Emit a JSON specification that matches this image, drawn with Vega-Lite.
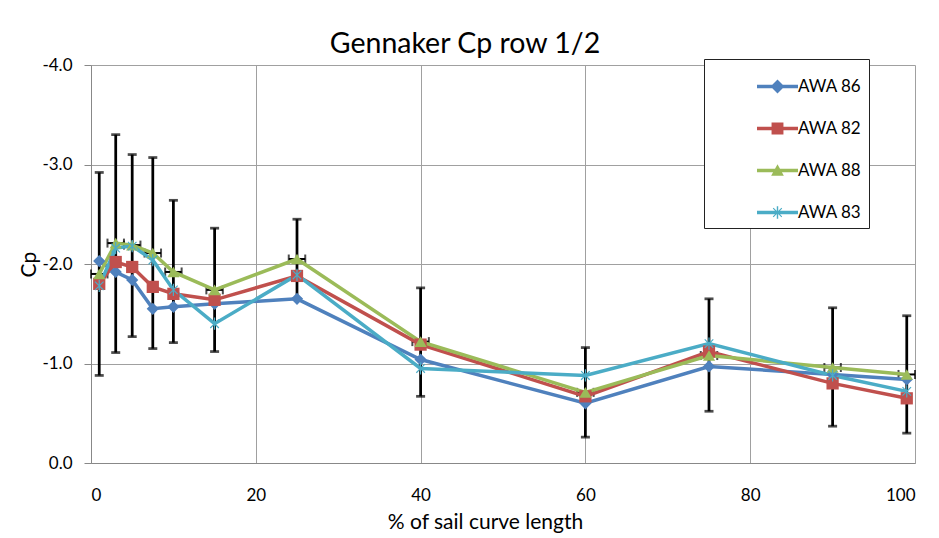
{
  "$schema": "https://vega.github.io/schema/vega-lite/v6.json",
  "description": "Gennaker Cp along the sail curve, four apparent wind angles",
  "autosize": "none",
  "padding": {"left": 91, "top": 65, "right": 24, "bottom": 75},
  "width": 824,
  "height": 398,
  "background": "white",
  "title": {
    "text": "Gennaker Cp row 1/2",
    "font": "Lato",
    "fontSize": 28.5,
    "fontWeight": "normal",
    "color": "#000",
    "anchor": "middle",
    "dx": -38,
    "offset": -2
  },
  "datasets": {
    "curves": [
      {"series": "AWA 86", "pct": 1, "cp": -2.03},
      {"series": "AWA 86", "pct": 3, "cp": -1.92},
      {"series": "AWA 86", "pct": 5, "cp": -1.84},
      {"series": "AWA 86", "pct": 7.5, "cp": -1.55},
      {"series": "AWA 86", "pct": 10, "cp": -1.57},
      {"series": "AWA 86", "pct": 15, "cp": -1.6},
      {"series": "AWA 86", "pct": 25, "cp": -1.65},
      {"series": "AWA 86", "pct": 40, "cp": -1.04},
      {"series": "AWA 86", "pct": 60, "cp": -0.6},
      {"series": "AWA 86", "pct": 75, "cp": -0.97},
      {"series": "AWA 86", "pct": 90, "cp": -0.89},
      {"series": "AWA 86", "pct": 99, "cp": -0.84},
      {"series": "AWA 82", "pct": 1, "cp": -1.8},
      {"series": "AWA 82", "pct": 3, "cp": -2.02},
      {"series": "AWA 82", "pct": 5, "cp": -1.97},
      {"series": "AWA 82", "pct": 7.5, "cp": -1.77},
      {"series": "AWA 82", "pct": 10, "cp": -1.7},
      {"series": "AWA 82", "pct": 15, "cp": -1.64},
      {"series": "AWA 82", "pct": 25, "cp": -1.88},
      {"series": "AWA 82", "pct": 40, "cp": -1.19},
      {"series": "AWA 82", "pct": 60, "cp": -0.67},
      {"series": "AWA 82", "pct": 75, "cp": -1.12},
      {"series": "AWA 82", "pct": 90, "cp": -0.8},
      {"series": "AWA 82", "pct": 99, "cp": -0.65},
      {"series": "AWA 88", "pct": 1, "cp": -1.9},
      {"series": "AWA 88", "pct": 3, "cp": -2.21},
      {"series": "AWA 88", "pct": 5, "cp": -2.19},
      {"series": "AWA 88", "pct": 7.5, "cp": -2.11},
      {"series": "AWA 88", "pct": 10, "cp": -1.92},
      {"series": "AWA 88", "pct": 15, "cp": -1.74},
      {"series": "AWA 88", "pct": 25, "cp": -2.05},
      {"series": "AWA 88", "pct": 40, "cp": -1.22},
      {"series": "AWA 88", "pct": 60, "cp": -0.71},
      {"series": "AWA 88", "pct": 75, "cp": -1.08},
      {"series": "AWA 88", "pct": 90, "cp": -0.96},
      {"series": "AWA 88", "pct": 99, "cp": -0.89},
      {"series": "AWA 83", "pct": 1, "cp": -1.78},
      {"series": "AWA 83", "pct": 3, "cp": -2.16},
      {"series": "AWA 83", "pct": 5, "cp": -2.18},
      {"series": "AWA 83", "pct": 7.5, "cp": -2.04},
      {"series": "AWA 83", "pct": 10, "cp": -1.74},
      {"series": "AWA 83", "pct": 15, "cp": -1.4},
      {"series": "AWA 83", "pct": 25, "cp": -1.89},
      {"series": "AWA 83", "pct": 40, "cp": -0.95},
      {"series": "AWA 83", "pct": 60, "cp": -0.88},
      {"series": "AWA 83", "pct": 75, "cp": -1.2},
      {"series": "AWA 83", "pct": 90, "cp": -0.88},
      {"series": "AWA 83", "pct": 99, "cp": -0.72}
    ],
    "errors": [
      {"pct": 1, "cp": -1.9, "lo": -2.92, "hi": -0.88, "xlo": 0, "xhi": 2},
      {"pct": 3, "cp": -2.21, "lo": -3.3, "hi": -1.11, "xlo": 2, "xhi": 4},
      {"pct": 5, "cp": -2.19, "lo": -3.1, "hi": -1.27, "xlo": 4, "xhi": 6},
      {"pct": 7.5, "cp": -2.11, "lo": -3.07, "hi": -1.15, "xlo": 6.5, "xhi": 8.5},
      {"pct": 10, "cp": -1.92, "lo": -2.64, "hi": -1.21, "xlo": 9, "xhi": 11},
      {"pct": 15, "cp": -1.74, "lo": -2.36, "hi": -1.12, "xlo": 14, "xhi": 16},
      {"pct": 25, "cp": -2.05, "lo": -2.45, "hi": -1.65, "xlo": 24, "xhi": 26},
      {"pct": 40, "cp": -1.22, "lo": -1.76, "hi": -0.67, "xlo": 39, "xhi": 41},
      {"pct": 60, "cp": -0.71, "lo": -1.16, "hi": -0.26, "xlo": 59, "xhi": 61},
      {"pct": 75, "cp": -1.08, "lo": -1.65, "hi": -0.52, "xlo": 74, "xhi": 76},
      {"pct": 90, "cp": -0.96, "lo": -1.56, "hi": -0.37, "xlo": 89, "xhi": 91},
      {"pct": 99, "cp": -0.89, "lo": -1.48, "hi": -0.3, "xlo": 98, "xhi": 100}
    ]
  },
  "data": {"name": "curves"},
  "encoding": {
    "x": {
      "field": "pct",
      "type": "quantitative",
      "title": "% of sail curve length",
      "scale": {"domain": [0, 100], "nice": false},
      "axis": {
        "values": [0, 20, 40, 60, 80, 100],
        "format": "d",
        "tickSize": 0,
        "labelPadding": 24,
        "titlePadding": 8,
        "titleX": 394
      }
    }
  },
  "layer": [
    {
      "data": {"name": "errors"},
      "mark": {"type": "errorbar", "color": "black", "thickness": 2.75, "ticks": {"size": 9}},
      "encoding": {
        "y": {"field": "lo", "type": "quantitative", "title": "Cp"},
        "y2": {"field": "hi"}
      }
    },
    {
      "data": {"name": "errors"},
      "mark": {"type": "errorbar", "color": "black", "thickness": 2, "ticks": {"size": 9}},
      "encoding": {
        "x": {"field": "xlo", "type": "quantitative", "title": "% of sail curve length"},
        "x2": {"field": "xhi"},
        "y": {"field": "cp", "type": "quantitative", "title": "Cp"}
      }
    },
    {
      "mark": {"type": "line", "strokeWidth": 3.5},
      "encoding": {
        "y": {
          "field": "cp",
          "type": "quantitative",
          "title": "Cp",
          "scale": {"domain": [-4, 0], "reverse": true, "nice": false},
          "axis": {
            "values": [-4, -3, -2, -1, 0],
            "labelExpr": "replace(format(datum.value, '.1f'), '\u2212', '-')",
            "tickSize": 7,
            "labelPadding": 12,
            "titlePadding": 2
          }
        },
        "color": {
          "field": "series",
          "type": "nominal",
          "legend": null,
          "scale": {
            "domain": ["AWA 86", "AWA 82", "AWA 88", "AWA 83"],
            "range": ["#4F81BD", "#C0504D", "#9BBB59", "#4BACC6"]
          }
        }
      }
    },
    {
      "mark": {"type": "point", "filled": true, "opacity": 1, "size": 150, "strokeWidth": 0},
      "encoding": {
        "y": {"field": "cp", "type": "quantitative", "title": "Cp"},
        "color": {"field": "series", "type": "nominal", "legend": null},
        "shape": {
          "field": "series",
          "type": "nominal",
          "legend": null,
          "scale": {
            "domain": ["AWA 86", "AWA 82", "AWA 88", "AWA 83"],
            "range": [
              "diamond",
              "square",
              "triangle-up",
              "M-0.1,-1L0.1,-1L0.1,1L-0.1,1Z M-0.77,-0.63L-0.63,-0.77L0.77,0.63L0.63,0.77Z M0.63,-0.77L0.77,-0.63L-0.63,0.77L-0.77,0.63Z"
            ]
          }
        }
      }
    },
    {
      "mark": {"type": "point", "filled": true, "opacity": 0, "size": 10, "strokeWidth": 0},
      "encoding": {
        "y": {"field": "cp", "type": "quantitative", "title": "Cp"},
        "color": {
          "field": "series",
          "type": "nominal",
          "legend": {
            "orient": "none",
            "legendX": 613,
            "legendY": -6,
            "title": null,
            "symbolSize": 1681,
            "symbolOpacity": 1,
            "symbolStrokeWidth": 0,
            "padding": 7,
            "rowPadding": 13,
            "symbolOffset": 46,
            "labelOffset": 0,
            "labelFont": "Lato",
            "labelFontSize": 17,
            "labelColor": "#000",
            "labelExpr": "datum.label + '                       '",
            "strokeColor": "#222",
            "fillColor": "white"
          }
        },
        "shape": {
          "field": "series",
          "type": "nominal",
          "scale": {
            "domain": ["AWA 86", "AWA 82", "AWA 88", "AWA 83"],
            "range": [
              "M-1,-0.085L1,-0.085L1,0.085L-1,0.085Z M0,-0.34L0.34,0L0,0.34L-0.34,0Z",
              "M-1,-0.085L1,-0.085L1,0.085L-1,0.085Z M-0.29,-0.29L0.29,-0.29L0.29,0.29L-0.29,0.29Z",
              "M-1,-0.085L1,-0.085L1,0.085L-1,0.085Z M0,-0.31L0.31,0.25L-0.31,0.25Z",
              "M-1,-0.085L1,-0.085L1,0.085L-1,0.085Z M-0.035,-0.3L0.035,-0.3L0.035,0.3L-0.035,0.3Z M-0.23,-0.19L-0.19,-0.23L0.23,0.19L0.19,0.23Z M0.19,-0.23L0.23,-0.19L-0.19,0.23L-0.23,0.19Z"
            ]
          },
          "legend": {
            "orient": "none",
            "legendX": 613,
            "legendY": -6,
            "title": null,
            "symbolOpacity": 1
          }
        }
      }
    }
  ],
  "resolve": {
    "scale": {"shape": "independent"},
    "legend": {"color": "independent", "shape": "independent"}
  },
  "config": {
    "view": {"stroke": null},
    "legend": {"symbolOpacity": 1},
    "axis": {
      "labelFont": "Lato",
      "titleFont": "Lato",
      "labelFontSize": 17,
      "titleFontSize": 21,
      "titleFontWeight": "normal",
      "labelColor": "#000",
      "titleColor": "#000",
      "grid": true,
      "gridColor": "#A0A0A0",
      "domainColor": "#888",
      "tickColor": "#888"
    }
  }
}
